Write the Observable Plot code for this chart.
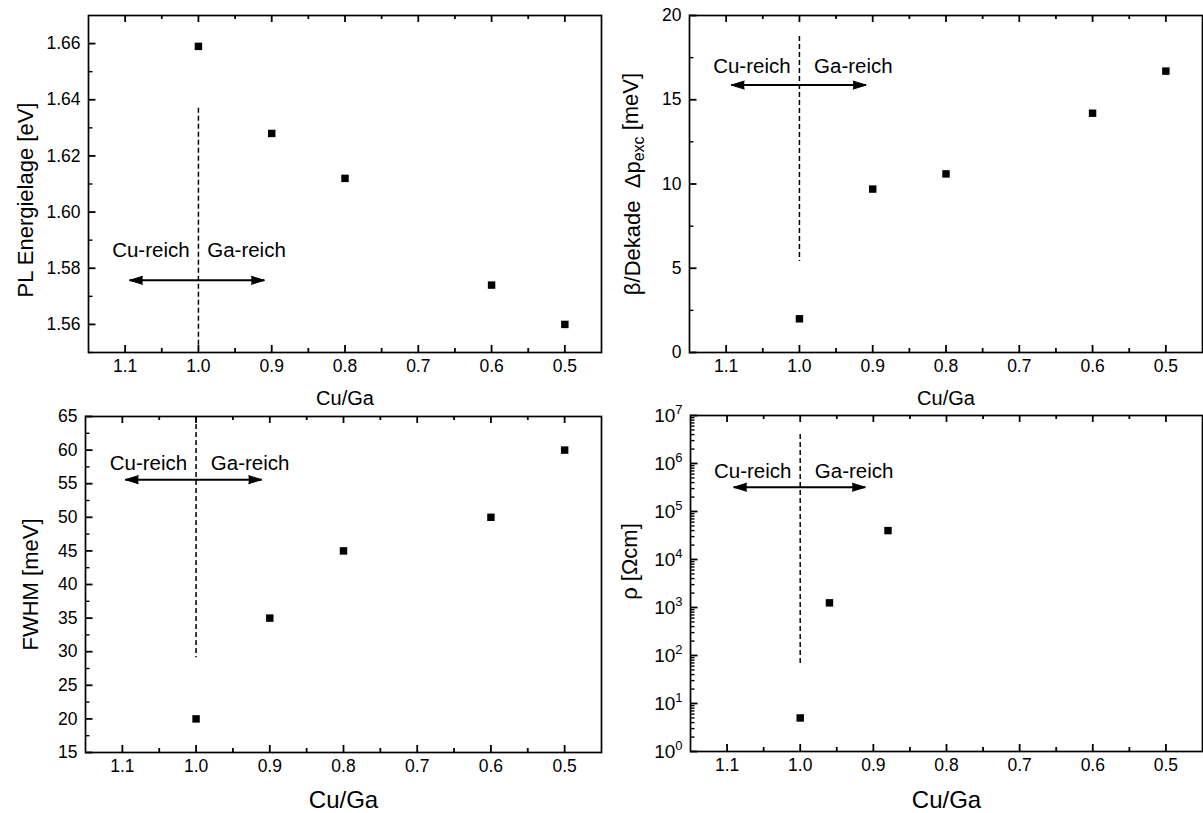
<!DOCTYPE html>
<html><head><meta charset="utf-8">
<script src="https://cdn.jsdelivr.net/npm/d3@7"></script>
<script src="https://cdn.jsdelivr.net/npm/@observablehq/plot@0.6"></script>
<style>
body{margin:0;background:#fff;}
#wrap{position:relative;width:1203px;height:813px;overflow:hidden;background:#fff;}
.panel{position:absolute;}
</style></head><body><div id="wrap"></div>
<script>
// ---- data ----
const cuGa = [1.0, 0.9, 0.8, 0.6, 0.5];
const plEnergy = [1.659, 1.628, 1.612, 1.574, 1.560];
const betaPerDecade = [2.0, 9.7, 10.6, 14.2, 16.7];
const fwhm = [20, 35, 45, 50, 60];
const cuGaRho = [1.0, 0.96, 0.88];
const rho = [5, 1250, 40000];
const xMajorTicks = [1.1, 1.0, 0.9, 0.8, 0.7, 0.6, 0.5];
const xMinorTicks = [1.05, 0.95, 0.85, 0.75, 0.65, 0.55];
const regionLabels = ["Cu-reich", "Ga-reich"];
const yTicksPL = [1.56, 1.58, 1.60, 1.62, 1.64, 1.66];
const yMinorPL = [1.55, 1.57, 1.59, 1.61, 1.63, 1.65];
const yTicksBeta = [0, 5, 10, 15, 20];
const yMinorBeta = [2.5, 7.5, 12.5, 17.5];
const yTicksFWHM = [15, 20, 25, 30, 35, 40, 45, 50, 55, 60, 65];
const yMinorFWHM = [17.5, 22.5, 27.5, 32.5, 37.5, 42.5, 47.5, 52.5, 57.5, 62.5];
const yTicksRho = [1, 10, 100, 1e3, 1e4, 1e5, 1e6, 1e7];
const yMinorRho = [];
for (let e = 0; e < 7; e++) for (let m = 2; m <= 9; m++) yMinorRho.push(m * Math.pow(10, e));
// annotation anchors: [dashTop, dashBottom, arrowY, arrowLeft, arrowRight, textY, cuEnd, gaStart]
const annPL   = [1.637, 1.551, 1.5757, 1.094, 0.910, 1.5864, 1.012, 0.988];
const annBeta = [18.75, 5.4, 15.87, 1.093, 0.909, 16.95, 1.012, 0.980];
const annFWHM = [65, 29.1, 55.6, 1.096, 0.911, 58.0, 1.012, 0.980];
const annRho  = [4e6, 67, 3.2e5, 1.091, 0.911, 6.9e5, 1.012, 0.980];
const xDomain = [1.15, 0.45];

const FONT = "'Liberation Sans', Arial, sans-serif";

// inward ticks: tick marks spanning the frame, shortened by insets to a few pixels
function inwardTicks(W, H, yMajor, yMinor) {
  const s = {stroke: "black"};
  return [
    Plot.tickX(xMajorTicks, {...s, x: d => d, insetTop: H - 7, strokeWidth: 1.8}),
    Plot.tickX(xMinorTicks, {...s, x: d => d, insetTop: H - 4, strokeWidth: 1.8}),
    Plot.tickX(xMajorTicks, {...s, x: d => d, insetBottom: H - 7, strokeWidth: 1.8}),
    Plot.tickX(xMinorTicks, {...s, x: d => d, insetBottom: H - 4, strokeWidth: 1.8}),
    Plot.tickY(yMajor, {...s, y: d => d, insetRight: W - 7.5, strokeWidth: 1.8}),
    Plot.tickY(yMinor, {...s, y: d => d, insetRight: W - 4.5, strokeWidth: 1.4})
  ];
}

function makePanel(cfg) {
  const pts = cfg.xs.map((x, i) => ({x, y: cfg.ys[i]}));
  const a = cfg.ann;
  const W = cfg.width - cfg.m[0] - cfg.m[1];
  const H = cfg.height - cfg.m[2] - cfg.m[3];
  const arrowLine = [{x1: a[3], x2: a[4], y: a[2]}];
  const heads = [{x: a[3], y: a[2], r: -90}, {x: a[4], y: a[2], r: 90}];
  const fx = d3.format(".1f");
  const plot = Plot.plot({
    width: cfg.width, height: cfg.height,
    marginLeft: cfg.m[0], marginRight: cfg.m[1], marginTop: cfg.m[2], marginBottom: cfg.m[3],
    style: {fontFamily: FONT, color: "black", background: "transparent", overflow: "visible"},
    x: {type: "linear", domain: xDomain},
    y: {type: cfg.yType || "linear", domain: cfg.yDomain},
    marks: [
      Plot.frame({stroke: "black", strokeWidth: 1.7}),
      ...inwardTicks(W, H, cfg.yMajor, cfg.yMinor),
      // tick labels
      Plot.axisX(xMajorTicks, {anchor: "bottom", tickSize: 0, tickPadding: 7, fontSize: 17.5, tickFormat: fx, label: null}),
      Plot.axisY(cfg.yMajor, {anchor: "left", tickSize: 0, tickPadding: 8, fontSize: cfg.yTickSize || 17.5, tickFormat: cfg.yFormat, label: null}),
      // annotation
      Plot.ruleX([1.0], {y1: a[0], y2: a[1], stroke: "black", strokeWidth: 1.5, strokeDasharray: "5,3"}),
      Plot.link(arrowLine, {x1: "x1", x2: "x2", y1: "y", y2: "y", stroke: "black", strokeWidth: 2}),
      Plot.vector(heads, {x: "x", y: "y", rotate: "r", length: 13, r: 4, shape: "spike", anchor: "end", fill: "black", stroke: "black", strokeWidth: 1}),
      Plot.text([regionLabels[0]], {x: a[6], y: a[5], text: d => d, textAnchor: "end", lineAnchor: "middle", fontSize: 20.5}),
      Plot.text([regionLabels[1]], {x: a[7], y: a[5], text: d => d, textAnchor: "start", lineAnchor: "middle", fontSize: 20.5}),
      // data
      Plot.dot(pts, {x: "x", y: "y", symbol: "square", r: 4.2, fill: "black", stroke: "none"}),
      // axis titles
      Plot.text([cfg.xTitle], {frameAnchor: "bottom", textAnchor: "middle", lineAnchor: "middle", dy: cfg.xTitleDy, fontSize: cfg.xTitleSize}),
      Plot.text([cfg.yTitle], {frameAnchor: "left", textAnchor: "middle", lineAnchor: "middle", dx: cfg.yTitleDx, dy: cfg.yTitleDy, rotate: -90, fontSize: 22})
    ]
  });
  const div = document.createElement("div");
  div.className = "panel";
  div.style.left = cfg.left + "px";
  div.style.top = cfg.top + "px";
  div.appendChild(plot);
  document.getElementById("wrap").appendChild(div);
  return plot;
}

makePanel({left: 0, top: 0, width: 602, height: 406, m: [88, 1, 15, 54],
  xs: cuGa, ys: plEnergy, yDomain: [1.55, 1.67], yMajor: yTicksPL, yMinor: yMinorPL, yFormat: d3.format(".2f"),
  ann: annPL, xTitle: "Cu/Ga", xTitleDy: 46, xTitleSize: 20,
  yTitle: "PL Energielage [eV]", yTitleDx: -63, yTitleDy: 16});

const p2 = makePanel({left: 601, top: 0, width: 602, height: 406, m: [88, 1, 15, 54],
  xs: cuGa, ys: betaPerDecade, yDomain: [0, 20], yMajor: yTicksBeta, yMinor: yMinorBeta, yFormat: d3.format("d"),
  ann: annBeta, xTitle: "Cu/Ga", xTitleDy: 46, xTitleSize: 20,
  yTitle: "β/Dekade  Δpexc [meV]", yTitleDx: -57, yTitleDy: 0});

makePanel({left: 0, top: 400, width: 602, height: 413, m: [85, 1, 16, 61],
  xs: cuGa, ys: fwhm, yDomain: [15, 65], yMajor: yTicksFWHM, yMinor: yMinorFWHM, yFormat: d3.format("d"),
  ann: annFWHM, xTitle: "Cu/Ga", xTitleDy: 48, xTitleSize: 24,
  yTitle: "FWHM [meV]", yTitleDx: -55, yTitleDy: 0});

const p4 = makePanel({left: 601, top: 400, width: 602, height: 413, m: [89, 1, 15, 62],
  xs: cuGaRho, ys: rho, yType: "log", yDomain: [1, 1e7], yMajor: yTicksRho, yMinor: yMinorRho,
  yFormat: d => "10^" + Math.round(Math.log10(d)), yTickSize: 19,
  ann: annRho, xTitle: "Cu/Ga", xTitleDy: 49, xTitleSize: 24,
  yTitle: "ρ [Ωcm]", yTitleDx: -61, yTitleDy: -22});

// superscripts for log tick labels
d3.select(p4).selectAll("text").each(function () {
  const el = d3.select(this);
  const m = /^10\^(\d+)$/.exec(this.textContent);
  if (m) {
    el.text("10");
    el.append("tspan").attr("dy", "-0.6em").attr("font-size", 13).text(m[1]);
  }
});
// subscript in beta title
d3.select(p2).selectAll("text").each(function () {
  if (this.textContent.startsWith("β/Dekade")) {
    const el = d3.select(this);
    el.text("β/Dekade\u00a0\u00a0Δp");
    el.append("tspan").attr("dy", "0.3em").attr("font-size", 16).text("exc");
    el.append("tspan").attr("dy", "-0.3em").attr("font-size", 22).text("\u00a0[meV]");
  }
});
</script></body></html>
